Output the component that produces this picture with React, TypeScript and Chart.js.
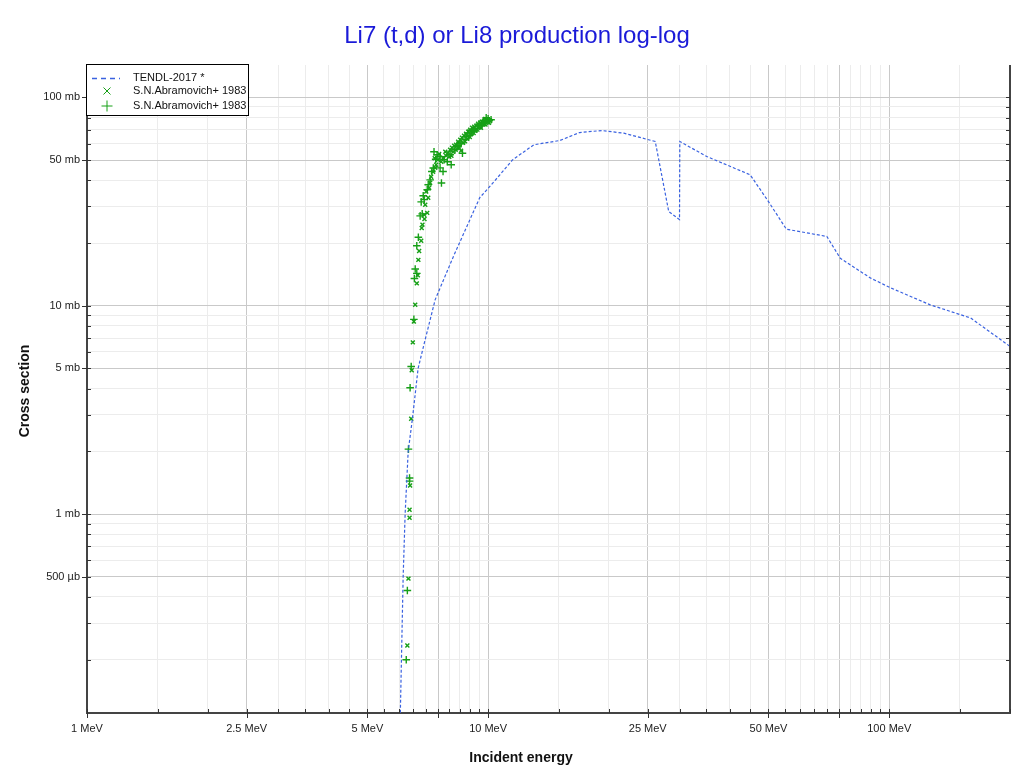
import React, { useEffect, useRef } from "react";
import { Chart, registerables } from "chart.js";

Chart.register(...registerables);

const TITLE = "Li7 (t,d) or Li8 production log-log";
const X_TITLE = "Incident energy";
const Y_TITLE = "Cross section";
const TENDL_LABEL = "TENDL-2017 *";
const EXP_LABEL = "S.N.Abramovich+ 1983";

const X_MIN = 1;
const X_MAX = 200;
const Y_MIN = 0.111;
const Y_MAX = 143;

const X_TICKS = [1, 1.5, 2, 2.5, 3, 3.5, 4, 4.5, 5, 5.5, 6, 6.5, 7, 7.5, 8, 8.5, 9, 9.5, 10, 15, 20, 25, 30, 35, 40, 45, 50, 55, 60, 65, 70, 75, 80, 85, 90, 95, 100, 150, 200];
const X_LABEL_VALUES = [1, 2.5, 5, 10, 25, 50, 100];
const X_LABEL_TEXT = ["1 MeV", "2.5 MeV", "5 MeV", "10 MeV", "25 MeV", "50 MeV", "100 MeV"];
const X_MAJOR = [1, 2.5, 5, 7.5, 10, 25, 50, 75, 100];

const Y_TICKS = [0.2, 0.3, 0.4, 0.5, 0.6, 0.7, 0.8, 0.9, 1, 2, 3, 4, 5, 6, 7, 8, 9, 10, 20, 30, 40, 50, 60, 70, 80, 90, 100];
const Y_LABEL_VALUES = [0.5, 1, 5, 10, 50, 100];
const Y_LABEL_TEXT = ["500 µb", "1 mb", "5 mb", "10 mb", "50 mb", "100 mb"];

// TENDL-2017 evaluation (MeV, mb)
const TENDL_E = [6.02, 6.14, 6.21, 6.32, 6.48, 6.69, 6.97, 7.38, 8.19, 8.85, 9.53, 10.1, 10.7, 11.5, 13.0, 15.1, 16.9, 19.2, 21.8, 26.1, 28.2, 30.0, 30.05, 35.1, 45.0, 50.0, 55.4, 69.9, 75.5, 89.7, 100.6, 126.5, 159.6, 200];
const TENDL_S = [0.08, 0.5, 1.0, 2.0, 2.9, 5.0, 6.9, 10.7, 17.2, 24.0, 33.0, 37.4, 42.5, 50.1, 59.2, 62.1, 67.8, 69.3, 67.3, 61.4, 28.3, 25.9, 61.4, 52.0, 42.5, 31.6, 23.3, 21.5, 16.9, 13.6, 12.2, 10.1, 8.73, 6.38];

// S.N.Abramovich+ 1983, first set (x markers)
const CROSS_E = [6.29, 6.33, 6.37, 6.37, 6.39, 6.43, 6.45, 6.49, 6.53, 6.58, 6.64, 6.68, 6.70, 6.73, 6.81, 6.83, 6.86, 6.93, 6.94, 6.97, 7.01, 7.05, 7.09, 7.13, 7.17, 7.21, 7.29, 7.38, 7.42, 7.50, 7.64, 7.73, 7.82, 7.86, 7.95, 8.00, 8.04, 8.13, 8.18, 8.23, 8.32, 8.42, 8.47, 8.52, 8.61, 8.66, 8.71, 8.81, 8.87, 8.92, 9.02, 9.07, 9.12, 9.23, 9.28, 9.34, 9.44, 9.50, 9.55, 9.66, 9.72, 9.77, 9.89, 9.94, 10.0, 10.12, 8.10, 8.30, 8.56, 8.76, 9.00, 9.20, 9.40, 9.60, 9.85, 10.05, 7.55, 7.36];
const CROSS_S = [0.234, 0.49, 0.96, 1.05, 1.37, 2.87, 4.9, 6.67, 8.4, 10.1, 12.8, 14.0, 16.6, 18.3, 20.5, 23.6, 24.5, 27.3, 26.1, 30.5, 35.3, 27.9, 33.0, 36.8, 38.9, 41.6, 44.0, 45.9, 47.5, 50.2, 49.1, 51.3, 54.8, 52.5, 54.2, 51.9, 56.1, 57.3, 54.8, 58.6, 59.2, 61.2, 57.3, 62.6, 64.0, 60.5, 65.4, 66.9, 63.3, 68.4, 69.9, 66.9, 71.5, 72.3, 69.1, 73.1, 74.7, 72.3, 75.5, 76.4, 74.7, 77.2, 78.1, 76.4, 78.1, 77.2, 52.5, 56.0, 55.5, 61.5, 64.5, 67.5, 70.0, 71.5, 74.0, 75.5, 53.5, 51.0];

// S.N.Abramovich+ 1983, second set (+ markers)
const PLUS_E = [6.25, 6.29, 6.33, 6.37, 6.37, 6.39, 6.43, 6.53, 6.55, 6.58, 6.64, 6.64, 6.70, 6.77, 6.81, 6.85, 6.89, 6.93, 7.05, 7.09, 7.17, 7.24, 7.30, 7.33, 7.46, 7.59, 7.59, 7.65, 7.72, 7.77, 7.91, 8.04, 8.09, 8.27, 8.37, 8.42, 8.56, 8.63, 8.76, 8.81, 8.97, 9.18, 9.23, 9.39, 9.61, 9.66, 9.83, 9.89, 10.06, 10.17, 8.50, 8.90, 9.10, 9.50, 9.75, 10.0, 7.40];
const PLUS_S = [0.20, 0.43, 2.05, 1.49, 1.44, 4.04, 5.11, 8.6, 13.5, 15.0, 14.3, 19.4, 21.3, 27.0, 31.5, 27.6, 33.7, 32.3, 36.0, 38.1, 40.2, 44.1, 45.8, 54.8, 53.0, 51.9, 45.9, 38.8, 44.1, 50.2, 49.1, 53.0, 47.5, 56.1, 57.9, 58.6, 59.9, 53.9, 62.6, 64.7, 65.4, 68.4, 69.9, 70.7, 73.1, 73.9, 75.5, 79.8, 77.2, 78.1, 61.0, 67.5, 69.5, 74.5, 77.5, 79.0, 50.5];

const FONT = "'Liberation Sans', Arial, Helvetica, sans-serif";
const LINE_COLOR = "#3a62e0";
const EXP_COLOR = "#17a017";
const TITLE_COLOR = "#1a1ad8";

const near = (a: number, b: number) => Math.abs(a - b) < 1e-9 * Math.max(1, Math.abs(b));
const labelFor = (v: number, vals: number[], texts: string[]) => {
  const i = vals.findIndex((x) => near(x, v));
  return i >= 0 ? texts[i] : "";
};

const toPoints = (xs: number[], ys: number[]) => xs.map((x, i) => ({ x, y: ys[i] }));

const decorPlugin = {
  id: "decor",
  beforeDraw(chart: any) {
    const ctx = chart.ctx;
    ctx.save();
    ctx.fillStyle = "#ffffff";
    ctx.fillRect(0, 0, chart.width, chart.height);
    ctx.restore();
  },
  afterDraw(chart: any) {
    const ctx = chart.ctx as CanvasRenderingContext2D;
    const { left, right, top, bottom } = chart.chartArea;
    const xs = chart.scales.x;
    const ys = chart.scales.y;
    ctx.save();

    // right frame line
    ctx.strokeStyle = "#444";
    ctx.lineWidth = 2;
    ctx.beginPath();
    ctx.moveTo(right, top);
    ctx.lineTo(right, bottom);
    ctx.stroke();

    // tick marks
    ctx.lineWidth = 1;
    ctx.strokeStyle = "#333";
    for (const v of X_TICKS) {
      const px = Math.round(xs.getPixelForValue(v)) + 0.5;
      const major = X_MAJOR.some((m) => near(m, v));
      ctx.beginPath();
      ctx.moveTo(px, bottom - 4);
      ctx.lineTo(px, major ? bottom + 5 : bottom);
      ctx.stroke();
    }
    for (const v of Y_TICKS) {
      const py = Math.round(ys.getPixelForValue(v)) + 0.5;
      const major = Y_LABEL_VALUES.some((m) => near(m, v));
      ctx.beginPath();
      ctx.moveTo(major ? left - 5 : left, py);
      ctx.lineTo(left + 4, py);
      ctx.moveTo(right - 4, py);
      ctx.lineTo(right, py);
      ctx.stroke();
    }

    // title
    ctx.fillStyle = TITLE_COLOR;
    ctx.font = `24px ${FONT}`;
    ctx.textAlign = "center";
    ctx.textBaseline = "middle";
    ctx.fillText(TITLE, 517, 36);

    // axis titles
    ctx.fillStyle = "#111";
    ctx.font = `bold 14px ${FONT}`;
    ctx.fillText(X_TITLE, 521, 758);
    ctx.save();
    ctx.translate(25, 391);
    ctx.rotate(-Math.PI / 2);
    ctx.fillText(Y_TITLE, 0, 0);
    ctx.restore();

    // legend
    const lx = 86.5, ly = 64.5, lw = 162, lh = 51;
    ctx.fillStyle = "#fff";
    ctx.fillRect(lx, ly, lw, lh);
    ctx.strokeStyle = "#000";
    ctx.lineWidth = 1;
    ctx.strokeRect(lx, ly, lw, lh);

    ctx.strokeStyle = LINE_COLOR;
    ctx.lineWidth = 1.5;
    ctx.setLineDash([5, 4]);
    ctx.beginPath();
    ctx.moveTo(92, 78.5);
    ctx.lineTo(120, 78.5);
    ctx.stroke();
    ctx.setLineDash([]);

    ctx.strokeStyle = EXP_COLOR;
    ctx.lineWidth = 1;
    ctx.beginPath();
    ctx.moveTo(103.5, 87.5);
    ctx.lineTo(110.5, 94.5);
    ctx.moveTo(110.5, 87.5);
    ctx.lineTo(103.5, 94.5);
    ctx.moveTo(107, 100.5);
    ctx.lineTo(107, 111.5);
    ctx.moveTo(101.5, 106);
    ctx.lineTo(112.5, 106);
    ctx.stroke();

    ctx.fillStyle = "#111";
    ctx.font = `11px ${FONT}`;
    ctx.textAlign = "left";
    ctx.textBaseline = "middle";
    ctx.fillText(TENDL_LABEL, 133, 78);
    ctx.fillText(EXP_LABEL, 133, 91);
    ctx.fillText(EXP_LABEL, 133, 106);

    ctx.restore();
  },
};

export default function App() {
  const ref = useRef<HTMLCanvasElement>(null);

  useEffect(() => {
    if (!ref.current) return;
    const chart = new Chart(ref.current, {
      type: "scatter",
      data: {
        datasets: [
          {
            label: TENDL_LABEL,
            data: toPoints(TENDL_E, TENDL_S),
            showLine: true,
            borderColor: LINE_COLOR,
            backgroundColor: LINE_COLOR,
            borderWidth: 1.2,
            borderDash: [3, 2],
            pointRadius: 0,
            tension: 0,
          },
          {
            label: EXP_LABEL,
            data: toPoints(CROSS_E, CROSS_S),
            showLine: false,
            pointStyle: "crossRot",
            pointRadius: 2.8,
            borderColor: EXP_COLOR,
            backgroundColor: EXP_COLOR,
            pointBorderWidth: 1.4,
          },
          {
            label: EXP_LABEL,
            data: toPoints(PLUS_E, PLUS_S),
            showLine: false,
            pointStyle: "cross",
            pointRadius: 3.8,
            borderColor: EXP_COLOR,
            backgroundColor: EXP_COLOR,
            pointBorderWidth: 1.4,
          },
        ],
      },
      options: {
        animation: false,
        responsive: false,
        devicePixelRatio: 1,
        layout: { padding: { top: 65, right: 10, left: 0, bottom: 0 } },
        plugins: {
          legend: { display: false },
          title: { display: false },
          tooltip: { enabled: false },
        },
        scales: {
          x: {
            type: "logarithmic",
            min: X_MIN,
            max: X_MAX,
            afterBuildTicks: (scale: any) => {
              scale.ticks = X_TICKS.map((v) => ({ value: v }));
            },
            afterFit: (scale: any) => {
              scale.height = 61;
            },
            ticks: {
              autoSkip: false,
              maxRotation: 0,
              minRotation: 0,
              padding: 9,
              color: "#222",
              font: { family: FONT, size: 11 },
              callback: (v: any) => labelFor(Number(v), X_LABEL_VALUES, X_LABEL_TEXT),
            },
            grid: {
              drawTicks: false,
              lineWidth: 1,
              color: (c: any) => {
                const v = c.tick ? c.tick.value : 0;
                return X_MAJOR.some((m) => near(m, v)) ? "#c9c9c9" : "#ececec";
              },
            },
            border: { display: true, color: "#444", width: 2 },
          },
          y: {
            type: "logarithmic",
            min: Y_MIN,
            max: Y_MAX,
            afterBuildTicks: (scale: any) => {
              scale.ticks = Y_TICKS.map((v) => ({ value: v }));
            },
            afterFit: (scale: any) => {
              scale.width = 87;
            },
            ticks: {
              autoSkip: false,
              padding: 7,
              color: "#222",
              font: { family: FONT, size: 11 },
              callback: (v: any) => labelFor(Number(v), Y_LABEL_VALUES, Y_LABEL_TEXT),
            },
            grid: {
              drawTicks: false,
              lineWidth: 1,
              color: (c: any) => {
                const v = c.tick ? c.tick.value : 0;
                return Y_LABEL_VALUES.some((m) => near(m, v)) ? "#c9c9c9" : "#ececec";
              },
            },
            border: { display: true, color: "#444", width: 2 },
          },
        },
      },
      plugins: [decorPlugin],
    } as any);
    return () => chart.destroy();
  }, []);

  return (
    <div style={{ position: "absolute", left: 0, top: 0, width: 1020, height: 774, background: "#fff" }}>
      <canvas ref={ref} width={1020} height={774} style={{ display: "block", width: 1020, height: 774 }} />
    </div>
  );
}
